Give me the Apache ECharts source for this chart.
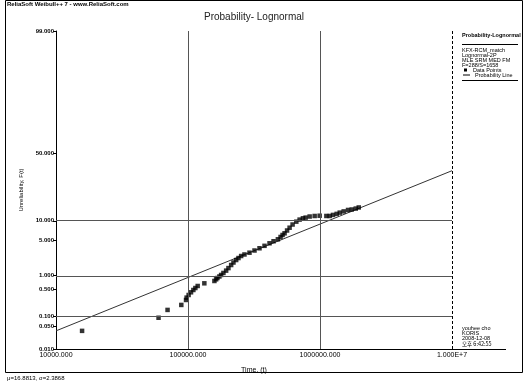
<!DOCTYPE html>
<html>
<head>
<meta charset="utf-8">
<script src="https://cdn.jsdelivr.net/npm/echarts@6/dist/echarts.min.js"></script>
<style>
  html, body { margin: 0; padding: 0; background: #fff; }
  #chart { width: 527px; height: 381px; }
</style>
</head>
<body>
<div id="chart"></div>
<script>
// 失效数据点：时间 (t) 与不可靠度 F(t) %
const pointTimes = [
  15760, 59830, 70000, 88970, 96610, 97630, 101100, 105400, 109800, 113700,
  118400, 133000, 158500, 163300, 167000, 172900, 178200, 185500, 194500, 202500,
  212300, 221000, 231700, 241200, 252700, 267800, 292300, 319000, 348100, 379900,
  414600, 444700, 479600, 502500, 520400, 539000, 563100, 588400, 620000, 661600,
  700700, 742300, 778200, 834900, 911000, 994000, 1117500, 1184000, 1254000, 1338000,
  1411000, 1512000, 1631000, 1740000, 1866000, 1966000
]
const pointUnrel = [
  0.037, 0.089, 0.146, 0.198, 0.266, 0.305, 0.355, 0.413, 0.470, 0.524,
  0.585, 0.675, 0.763, 0.833, 0.891, 0.963, 1.04, 1.15, 1.29, 1.46,
  1.69, 1.90, 2.13, 2.33, 2.55, 2.73, 2.95, 3.24, 3.56, 3.94,
  4.37, 4.74, 5.12, 5.60, 6.04, 6.43, 7.13, 7.88, 8.81, 9.71,
  10.4, 10.85, 11.1, 11.5, 11.7, 11.8, 11.7, 11.7, 12.1, 12.5,
  13.0, 13.5, 14.1, 14.3, 14.7, 15.2
]
// 概率线两端
const lineTimes = [10000, 10000000]
const lineUnrel = [0.037, 37.1]

// 刻度
const yTickValues = [99, 50, 10, 5, 1, 0.5, 0.1, 0.05, 0.01]
const yTickLabels = ['99.000', '50.000', '10.000', '5.000', '1.000', '0.500', '0.100', '0.050', '0.010']
const xTickValues = [10000, 100000, 1000000, 10000000]
const xTickLabels = ['10000.000', '100000.000', '1000000.000', '1.000E+7']
const gridUnrel = [10, 1, 0.1]
const gridTimes = [100000, 1000000]

const FONT = "'Liberation Sans', sans-serif"
const FONT_KR = "'Noto Sans CJK KR', 'Liberation Sans', sans-serif"

/* 正态分布逆函数 (Acklam) */
function probit(p) {
  const a = [-39.69683028665376, 220.9460984245205, -275.9285104469687, 138.3577518672690, -30.66479806614716, 2.506628277459239]
  const b = [-54.47609879822406, 161.5858368580409, -155.6989798598866, 66.80131188771972, -13.28068155288572]
  const c = [-0.007784894002430293, -0.3223964580411365, -2.400758277161838, -2.549732539343734, 4.374664141464968, 2.938163982698783]
  const d = [0.007784695709041462, 0.3224671290700398, 2.445134137142996, 3.754408661907416]
  const pl = 0.02425
  let q, r
  if (p < pl) {
    q = Math.sqrt(-2 * Math.log(p))
    return (((((c[0] * q + c[1]) * q + c[2]) * q + c[3]) * q + c[4]) * q + c[5]) /
      ((((d[0] * q + d[1]) * q + d[2]) * q + d[3]) * q + 1)
  }
  if (p > 1 - pl) {
    q = Math.sqrt(-2 * Math.log(1 - p))
    return -(((((c[0] * q + c[1]) * q + c[2]) * q + c[3]) * q + c[4]) * q + c[5]) /
      ((((d[0] * q + d[1]) * q + d[2]) * q + d[3]) * q + 1)
  }
  q = p - 0.5
  r = q * q
  return (((((a[0] * r + a[1]) * r + a[2]) * r + a[3]) * r + a[4]) * r + a[5]) * q /
    (((((b[0] * r + b[1]) * r + b[2]) * r + b[3]) * r + b[4]) * r + 1)
}
const z = f => probit(f / 100) // 百分比 -> 概率坐标

const yTickZ = yTickValues.map(z)
const yLabel = v => {
  let best = 0
  yTickZ.forEach((t, i) => { if (Math.abs(t - v) < Math.abs(yTickZ[best] - v)) best = i })
  return yTickLabels[best]
}
const xLabel = v => {
  const i = xTickValues.findIndex(t => Math.abs(Math.log10(t) - Math.log10(v)) < 1e-6)
  return i < 0 ? '' : xTickLabels[i]
}

const txt = (x, y, text, style) => ({
  type: 'text', x, y, silent: true,
  style: Object.assign({ text, fontFamily: FONT, fontSize: 6, fill: '#000', textVerticalAlign: 'middle' }, style)
})
const hline = (x1, x2, y, color) => ({
  type: 'line', silent: true,
  shape: { x1, y1: y, x2, y2: y },
  style: { stroke: color || '#000', lineWidth: 1 }
})

const chart = echarts.init(document.getElementById('chart'))

chart.setOption({
  backgroundColor: '#fff',
  animation: false,
  grid: { left: 56, right: 75, top: 31, bottom: 32 },
  xAxis: {
    type: 'log', logBase: 10, min: 10000, max: 10000000,
    axisLine: { show: true, onZero: false, lineStyle: { color: '#000', width: 1 } },
    axisTick: { show: false },
    axisLabel: { customValues: xTickValues, formatter: xLabel, fontFamily: FONT, fontSize: 7, color: '#000', margin: 3 },
    splitLine: { show: false },
    name: 'Time, (t)', nameLocation: 'middle', nameGap: 18,
    nameTextStyle: { fontFamily: FONT, fontSize: 7, color: '#000' }
  },
  yAxis: {
    type: 'value', min: z(0.01), max: z(99),
    axisLine: { show: true, onZero: false, lineStyle: { color: '#000', width: 1 } },
    axisTick: { show: true, length: 3, customValues: yTickZ, lineStyle: { color: '#000' } },
    axisLabel: { customValues: yTickZ, formatter: yLabel, fontFamily: FONT, fontSize: 6, fontWeight: 'bold', color: '#000', margin: 2 },
    splitLine: { show: false },
    name: 'Unreliability, F(t)', nameLocation: 'middle', nameGap: 32,
    nameTextStyle: { fontFamily: FONT, fontSize: 6, color: '#000' }
  },
  series: [
    {
      name: 'Probability Line',
      type: 'line',
      data: lineTimes.map((t, i) => [t, z(lineUnrel[i])]),
      showSymbol: false,
      lineStyle: { color: '#333', width: 1 },
      silent: true,
      z: 3,
      markLine: {
        silent: true,
        symbol: 'none',
        label: { show: false },
        lineStyle: { color: '#555', width: 1, type: 'solid' },
        data: [
          ...gridUnrel.map(v => ({ yAxis: z(v) })),
          ...gridTimes.map(t => ({ xAxis: t })),
          { yAxis: z(99), lineStyle: { color: '#000' } },
          { xAxis: 10000000, lineStyle: { color: '#000', type: [3, 2] } }
        ]
      }
    },
    {
      name: 'Data Points',
      type: 'scatter',
      data: pointTimes.map((t, i) => [t, z(pointUnrel[i])]),
      symbol: 'rect',
      symbolSize: 4.5,
      itemStyle: { color: '#000' },
      silent: true,
      z: 4
    }
  ],
  graphic: [
    { type: 'rect', silent: true, shape: { x: 5.5, y: 0.5, width: 517, height: 372 }, style: { fill: null, stroke: '#000', lineWidth: 1 } },
    txt(7, 4, 'ReliaSoft Weibull++ 7 - www.ReliaSoft.com', { fontWeight: 'bold' }),
    txt(254, 17, 'Probability- Lognormal', { fontSize: 10, fill: '#222', textAlign: 'center' }),
    // 图例
    txt(462, 35, 'Probability-Lognormal', { fontSize: 5.5, fontWeight: 'bold' }),
    hline(462, 518, 44.5),
    txt(462, 50, 'KFX-RCM_match', { fontSize: 5.5 }),
    txt(462, 55, 'Lognormal-2P', { fontSize: 5.5 }),
    txt(462, 60, 'MLE SRM MED FM', { fontSize: 5.5 }),
    txt(462, 65, 'F=288/S=1658', { fontSize: 5.5 }),
    { type: 'rect', silent: true, shape: { x: 464, y: 68.5, width: 3, height: 3 }, style: { fill: '#000' } },
    txt(473, 70, 'Data Points', { fontSize: 5.5 }),
    hline(463, 470, 75),
    txt(475, 75, 'Probability Line', { fontSize: 5.5 }),
    hline(462, 518, 80.5),
    // 用户信息
    txt(462, 328, 'youhee cho', { fontSize: 5.5 }),
    txt(462, 333, 'KORIS', { fontSize: 5.5 }),
    txt(462, 338, '2008-12-08', { fontSize: 5.5 }),
    txt(462, 343.5, '오후 6:42:55', { fontSize: 5.5, fontFamily: FONT_KR }),
    hline(452, 506, 349.5),
    txt(7, 378, 'μ=16.8813, σ=2.3868', { fontSize: 6 })
  ]
})
</script>
</body>
</html>
